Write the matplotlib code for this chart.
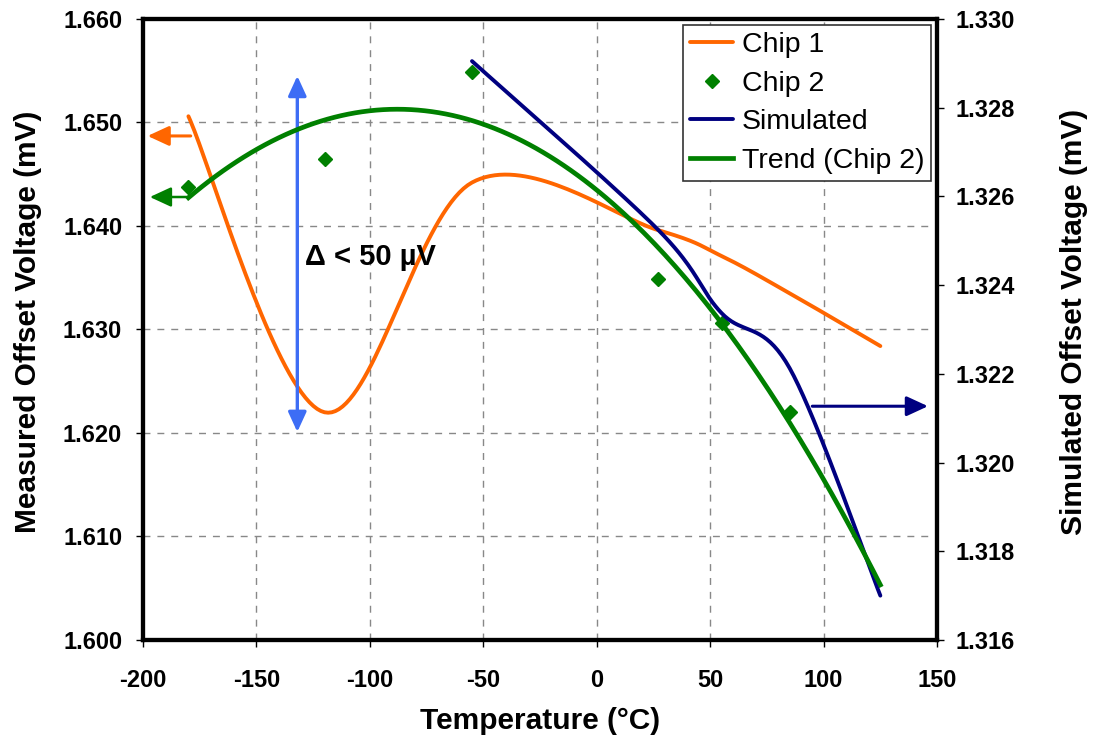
import numpy as np
import matplotlib.pyplot as plt

plt.rcParams['font.family'] = ['Liberation Sans', 'DejaVu Sans']
plt.rcParams['axes.unicode_minus'] = False

# measured data (left axis)
temps = [-180, -120, -55, 27, 55, 85, 125]
chip1 = [1.6506, 1.6220, 1.6442, 1.6396, 1.6371, 1.6335, 1.6284]
chip2_temps = [-180, -120, -55, 27, 55, 85]
chip2 = [1.6438, 1.6465, 1.6549, 1.6349, 1.6306, 1.6220]

# simulated data (right axis)
sim_temps = [-55, 27, 55, 85, 125]
sim = [1.32905, 1.32525, 1.32337, 1.32213, 1.31700]

xticks = [-200, -150, -100, -50, 0, 50, 100, 150]
left_ticks = [1.600, 1.610, 1.620, 1.630, 1.640, 1.650, 1.660]
right_ticks = [1.316, 1.318, 1.320, 1.322, 1.324, 1.326, 1.328, 1.330]

ORANGE = '#FF6600'
GREEN = '#008000'
NAVY = '#000080'
BLUE = '#3D6DF5'


def smooth(xs, ys, n=40):
    # Excel style smoothed line (Bezier through the points)
    p = np.column_stack((xs, ys)).astype(float)
    p = np.vstack((p[0], p, p[-1]))
    out = []
    t = np.linspace(0, 1, n)[:, None]
    for i in range(1, len(p) - 2):
        p0, p1, p2, p3 = p[i - 1], p[i], p[i + 1], p[i + 2]
        c1 = p1 + (p2 - p0) / 6
        c2 = p2 - (p3 - p1) / 6
        seg = ((1 - t) ** 3) * p1 + 3 * ((1 - t) ** 2) * t * c1 + 3 * (1 - t) * t ** 2 * c2 + t ** 3 * p2
        out.append(seg)
    out = np.vstack(out)
    return out[:, 0], out[:, 1]


fig = plt.figure(figsize=(10.97, 7.42), dpi=100)
ax = fig.add_axes([0.1304, 0.1375, 0.7238, 0.8369])
ax2 = ax.twinx()

ax.set_xlim(-200, 150)
ax.set_ylim(1.600, 1.660)
ax2.set_ylim(1.316, 1.330)
ax.set_xticks(xticks)
ax.set_yticks(left_ticks)
ax2.set_yticks(right_ticks)
ax.set_yticklabels([f"{v:.3f}" for v in left_ticks])
ax2.set_yticklabels([f"{v:.3f}" for v in right_ticks])
ax.grid(True, color='#888888', linestyle=(0, (5, 5)), linewidth=1)

for a in (ax, ax2):
    for s in a.spines.values():
        s.set_linewidth(3)
a_kw = dict(labelsize=17, length=5, width=1, direction='out')
ax.tick_params(axis='y', pad=10, **a_kw)
ax.tick_params(axis='x', pad=16, **a_kw)
ax2.tick_params(axis='y', pad=8, **a_kw)
for lab in ax.get_xticklabels() + ax.get_yticklabels() + ax2.get_yticklabels():
    lab.set_fontweight('bold')

ax.set_xlabel('Temperature (°C)', fontsize=21.5, fontweight='bold')
ax.set_ylabel('Measured Offset Voltage (mV)', fontsize=21.5, fontweight='bold')
ax2.set_ylabel('Simulated Offset Voltage (mV)', fontsize=21.5, fontweight='bold')
ax.xaxis.set_label_coords(0.5, -0.108)
ax.yaxis.set_label_coords(-0.127, 0.512)
ax2.yaxis.set_label_coords(1.155, 0.512)

# trend line for chip 2 (polynomial fit)
coef = np.polyfit(chip2_temps, chip2, 3)
tx = np.linspace(-180, 125, 200)

sx, sy = smooth(temps, chip1)
h1, = ax.plot(sx, sy, color=ORANGE, lw=2.8, solid_capstyle='round', zorder=3)
h2, = ax.plot(chip2_temps, chip2, 'D', color=GREEN, ms=7, ls='none', zorder=4)
mx, my = smooth(sim_temps, sim)
h3, = ax2.plot(mx, my, color=NAVY, lw=2.8, solid_capstyle='round', zorder=3)
h4, = ax2.plot(tx, np.polyval(coef, tx), color=GREEN, lw=3.4, transform=ax.transData, zorder=4)

# axis pointer arrows
head = '-|>,head_length=1.3,head_width=0.6'
ax.annotate('', xy=(-198, 1.6487), xytext=(-179, 1.6487),
            arrowprops=dict(arrowstyle=head, color=ORANGE, lw=2.2, shrinkA=0, shrinkB=0),
            annotation_clip=False)
ax.annotate('', xy=(-197, 1.6428), xytext=(-180, 1.6428),
            arrowprops=dict(arrowstyle=head, color=GREEN, lw=1.8, shrinkA=0, shrinkB=0),
            annotation_clip=False)
ax2.annotate('', xy=(146, 1.32127), xytext=(95, 1.32127),
             arrowprops=dict(arrowstyle=head, color=NAVY, lw=2.2, shrinkA=0, shrinkB=0),
             annotation_clip=False)
ax.annotate('', xy=(-132, 1.6545), xytext=(-132, 1.6201),
            arrowprops=dict(arrowstyle='<|-|>,head_length=1.2,head_width=0.55', color=BLUE, lw=2.4,
                            shrinkA=0, shrinkB=0))
ax.text(-128.5, 1.6370, 'Δ < 50 µV', fontsize=21, fontweight='bold', va='center', ha='left')

leg = ax2.legend([h1, h2, h3, h4], ['Chip 1', 'Chip 2', 'Simulated', 'Trend (Chip 2)'],
                 loc='upper right', fontsize=20.5, numpoints=1, fancybox=False, framealpha=1,
                 edgecolor='#333333', borderaxespad=0.2, handlelength=1.5, handletextpad=0.3,
                 labelspacing=0.45, borderpad=0.25)
leg.get_frame().set_linewidth(1.2)

fig.savefig('out.png', dpi=100)
